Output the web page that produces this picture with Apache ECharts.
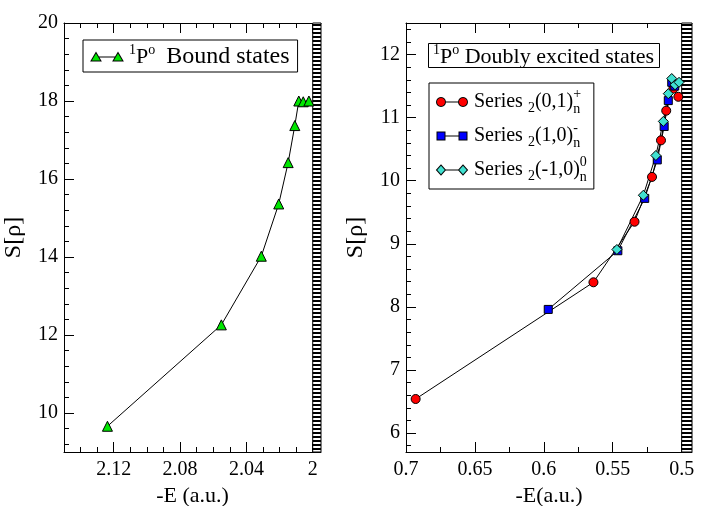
<!DOCTYPE html>
<html>
<head>
<meta charset="utf-8">
<script src="https://cdn.jsdelivr.net/npm/echarts@6/dist/echarts.min.js"></script>
<style>
  html, body { margin: 0; padding: 0; background: #fff; }
  #chart { width: 706px; height: 506px; }
</style>
</head>
<body>
<div id="chart"></div>
<script>
// left panel: 1Po bound states, -E (a.u.) and S[rho]
var boundE = [2.1238, 2.0551, 2.0310, 2.0205, 2.0148, 2.0108, 2.0084, 2.0057, 2.0023];
var boundS = [9.66, 12.26, 14.02, 15.36, 16.42, 17.37, 18.00, 17.98, 18.00];

// right panel: doubly excited series below the N=2 threshold
var plusE = [0.6930, 0.5640, 0.5342, 0.5215, 0.5150, 0.5112, 0.5060, 0.5024];
var plusS = [6.54, 8.39, 9.35, 10.06, 10.64, 11.11, 11.46, 11.33];
var minusE = [0.5968, 0.5463, 0.5268, 0.5177, 0.5127, 0.5097, 0.5072, 0.5050];
var minusS = [7.96, 8.89, 9.72, 10.33, 10.86, 11.27, 11.56, 11.50];
var zeroE = [0.5470, 0.5278, 0.5187, 0.5133, 0.5097, 0.5072, 0.5048, 0.5019];
var zeroS = [8.91, 9.77, 10.40, 10.94, 11.38, 11.62, 11.52, 11.56];

// axes
var leftXTicks = [2.12, 2.08, 2.04, 2];
var leftYTicks = [10, 12, 14, 16, 18, 20];
var rightXTicks = [0.7, 0.65, 0.6, 0.55, 0.5];
var rightYTicks = [6, 7, 8, 9, 10, 11, 12];
var leftThreshold = 2.0;
var rightThreshold = 0.5;

var F = "'Liberation Serif', 'Times New Roman', 'DejaVu Serif', serif";

function steps(from, to, step) {
  var out = [];
  for (var v = from; v <= to + 1e-9; v += step) out.push(+v.toFixed(4));
  return out;
}
function pairs(xs, ys) {
  return xs.map(function (x, i) { return [x, ys[i]]; });
}

function drawMarker(g, shape, cx, cy, fill) {
  g.fillStyle = fill;
  g.strokeStyle = "#000";
  g.lineWidth = 1;
  g.beginPath();
  if (shape === "circle") {
    g.arc(cx, cy, 4.5, 0, Math.PI * 2);
  } else if (shape === "rect") {
    g.rect(cx - 4, cy - 4, 8, 8);
  } else if (shape === "diamond") {
    g.moveTo(cx, cy - 5); g.lineTo(cx + 4.5, cy); g.lineTo(cx, cy + 5); g.lineTo(cx - 4.5, cy); g.closePath();
  } else {
    g.moveTo(cx, cy - 4.5); g.lineTo(cx + 5, cy + 4); g.lineTo(cx - 5, cy + 4); g.closePath();
  }
  g.fill();
  g.stroke();
}
function legendIcon(shape, fill) {
  var c = document.createElement("canvas");
  c.width = 68; c.height = 24;
  var g = c.getContext("2d");
  g.scale(2, 2);
  g.strokeStyle = "#000";
  g.lineWidth = 1;
  g.beginPath(); g.moveTo(6, 6); g.lineTo(28, 6); g.stroke();
  drawMarker(g, shape, 6, 6, fill);
  drawMarker(g, shape, 28, 6, fill);
  return "image://" + c.toDataURL();
}

// hatched strip at the threshold
var stripe = document.createElement("canvas");
stripe.width = 4; stripe.height = 4;
var sg = stripe.getContext("2d");
sg.fillStyle = "#fff"; sg.fillRect(0, 0, 4, 4);
sg.fillStyle = "#000"; sg.fillRect(0, 0, 4, 2);
var stripArea = function (from, to) {
  return {
    silent: true,
    itemStyle: { color: { image: stripe, repeat: "repeat" }, borderColor: "#000", borderWidth: 1 },
    data: [[{ xAxis: from }, { xAxis: to }]]
  };
};

var axisColor = "#000";
var labelStyle = { fontFamily: F, fontSize: 20, color: "#000" };

function xAxes(gridIndex, min, max, major, minor, name) {
  var base = { type: "value", gridIndex: gridIndex, min: min, max: max, inverse: true, splitLine: { show: false } };
  return [
    Object.assign({}, base, {
      position: "bottom",
      axisLine: { show: true, onZero: false, lineStyle: { color: axisColor, width: 1 } },
      axisTick: { show: true, inside: true, length: 10, customValues: major, lineStyle: { color: axisColor } },
      axisLabel: Object.assign({ customValues: major, margin: 8 }, labelStyle),
      name: name, nameLocation: "middle", nameGap: 18,
      nameTextStyle: { fontFamily: F, fontSize: 22, color: "#000" }
    }),
    Object.assign({}, base, {
      position: "bottom",
      axisLine: { show: false },
      axisTick: { show: true, inside: true, length: 5, customValues: minor, lineStyle: { color: axisColor } },
      axisLabel: { show: false }
    }),
    Object.assign({}, base, {
      position: "top",
      axisLine: { show: true, onZero: false, lineStyle: { color: axisColor, width: 1 } },
      axisTick: { show: true, inside: true, length: 10, customValues: major, lineStyle: { color: axisColor } },
      axisLabel: { show: false }
    }),
    Object.assign({}, base, {
      position: "top",
      axisLine: { show: false },
      axisTick: { show: true, inside: true, length: 5, customValues: minor, lineStyle: { color: axisColor } },
      axisLabel: { show: false }
    })
  ];
}
function yAxes(gridIndex, min, max, major, minor) {
  var base = { type: "value", gridIndex: gridIndex, min: min, max: max, position: "left", splitLine: { show: false } };
  return [
    Object.assign({}, base, {
      axisLine: { show: true, onZero: false, lineStyle: { color: axisColor, width: 1 } },
      axisTick: { show: true, inside: true, length: 10, customValues: major, lineStyle: { color: axisColor } },
      axisLabel: Object.assign({ customValues: major, margin: 6 }, labelStyle),
      name: "S[ρ]", nameLocation: "middle", nameGap: 38,
      nameTextStyle: { fontFamily: F, fontSize: 24, color: "#000" }
    }),
    Object.assign({}, base, {
      axisLine: { show: false },
      axisTick: { show: true, inside: true, length: 5, customValues: minor, lineStyle: { color: axisColor } },
      axisLabel: { show: false }
    })
  ];
}

var rich = {
  sup: { fontFamily: F, fontSize: 14, color: "#000", padding: [0, 0, 14, 0] },
  sub: { fontFamily: F, fontSize: 14, color: "#000", padding: [12, 0, 0, 0] },
  sp: { fontFamily: F, fontSize: 14, color: "#000", width: 0, padding: [0, 0, 16, 0] },
  sn: { fontFamily: F, fontSize: 14, color: "#000", padding: [14, 0, 0, 0] },
  big: { fontFamily: F, fontSize: 24, color: "#000" }
};

var seriesLabels = {
  plus: "Series {sub|2}(0,1){sp|+}{sn|n}",
  minus: "Series {sub|2}(1,0){sp|-}{sn|n}",
  zero: "Series {sub|2}(-1,0){sp|0}{sn|n}"
};

function lineSeries(name, data, xi, yi, symbol, size, color, extra) {
  return Object.assign({
    name: name, type: "line", xAxisIndex: xi, yAxisIndex: yi, data: data,
    symbol: symbol, symbolSize: size, showSymbol: true,
    lineStyle: { color: "#000", width: 1 },
    itemStyle: { color: color, borderColor: "#000", borderWidth: 1 },
    emphasis: { disabled: true }, z: 3
  }, extra || {});
}

var chart = echarts.init(document.getElementById("chart"));
var option = {
  animation: false,
  backgroundColor: "#fff",
  title: {
    text: "{sup|1}P{sup|o} Doubly excited states",
    left: 428, top: 43,
    padding: [0, 6, 0, 5],
    borderColor: "#000", borderWidth: 1,
    textStyle: { fontFamily: F, fontSize: 22, fontWeight: "normal", color: "#000", rich: rich }
  },
  legend: [
    {
      left: 83, top: 40, padding: [3, 8, 3, 7],
      borderColor: "#000", borderWidth: 1,
      itemWidth: 34, itemHeight: 12, selectedMode: false,
      data: [{ name: "bound", icon: legendIcon("triangle", "#00e600") }],
      formatter: function () { return "{sup|1}P{sup|o}  {big|Bound states}"; },
      textStyle: { fontFamily: F, fontSize: 22, color: "#000", rich: rich }
    },
    {
      left: 429, top: 83, orient: "vertical", padding: [4, 7, 5, 6], itemGap: 5,
      borderColor: "#000", borderWidth: 1,
      itemWidth: 34, itemHeight: 12, selectedMode: false,
      data: [
        { name: "plus", icon: legendIcon("circle", "#ff0000") },
        { name: "minus", icon: legendIcon("rect", "#0000ff") },
        { name: "zero", icon: legendIcon("diamond", "#40e0d0") }
      ],
      formatter: function (name) { return seriesLabels[name]; },
      textStyle: { fontFamily: F, fontSize: 20, color: "#000", rich: rich }
    }
  ],
  grid: [
    { left: 64, top: 23, width: 257, height: 429, outerBoundsMode: "none", containLabel: false },
    { left: 406, top: 23, width: 286, height: 429, outerBoundsMode: "none", containLabel: false }
  ],
  xAxis: xAxes(0, 1.995, 2.15, leftXTicks, steps(2.0, 2.15, 0.01), "-E (a.u.)")
    .concat(xAxes(1, 0.4925, 0.7, rightXTicks, steps(0.5, 0.7, 0.025), "-E(a.u.)")),
  yAxis: yAxes(0, 9, 20, leftYTicks, steps(9.2, 20, 0.4))
    .concat(yAxes(1, 5.7, 12.5, rightYTicks, steps(5.8, 12.5, 0.2))),
  series: [
    lineSeries("bound", pairs(boundE, boundS), 0, 0, "triangle", 10, "#00e600",
      { markArea: stripArea(leftThreshold, 1.995) }),
    lineSeries("plus", pairs(plusE, plusS), 4, 2, "circle", 9, "#ff0000",
      { markArea: stripArea(rightThreshold, 0.4925) }),
    lineSeries("minus", pairs(minusE, minusS), 4, 2, "rect", 8, "#0000ff"),
    lineSeries("zero", pairs(zeroE, zeroS), 4, 2, "diamond", 10, "#40e0d0")
  ]
};
option && chart.setOption(option);
</script>
</body>
</html>
